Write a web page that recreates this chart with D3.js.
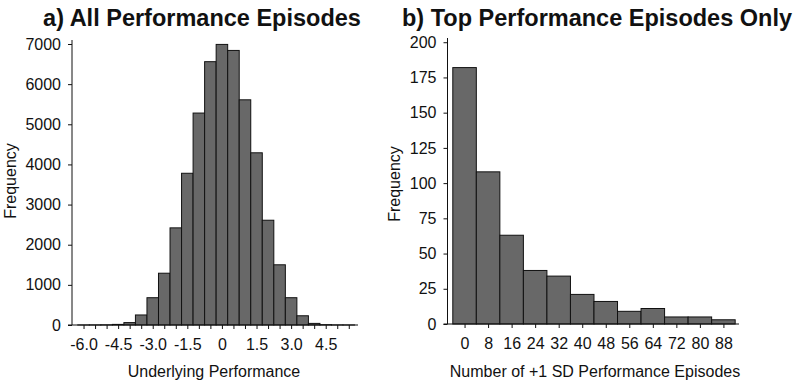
<!DOCTYPE html>
<html>
<head>
<meta charset="utf-8">
<script src="https://cdn.jsdelivr.net/npm/d3@7"></script>
<style>
  html, body { margin: 0; padding: 0; background: #fff; }
  svg text { font-family: "Liberation Sans", Arial, sans-serif; fill: #111; }
</style>
</head>
<body>
<svg id="chart" width="799" height="384"></svg>
<script>
// Panel a: histogram of underlying performance (bin centres, width 0.5)
const perfBins = [-6.0, -5.5, -5.0, -4.5, -4.0, -3.5, -3.0, -2.5, -2.0, -1.5, -1.0, -0.5,
                  0, 0.5, 1.0, 1.5, 2.0, 2.5, 3.0, 3.5, 4.0, 4.5, 5.0, 5.5];
const perfCounts = [1, 2, 4, 15, 60, 250, 680, 1290, 2420, 3780, 5280, 6560,
                    6990, 6840, 5610, 4290, 2610, 1500, 680, 230, 40, 8, 2, 1];
const perfTickLabels = [-6.0, -4.5, -3.0, -1.5, 0, 1.5, 3.0, 4.5];
const perfYTicks = [0, 1000, 2000, 3000, 4000, 5000, 6000, 7000];

// Panel b: histogram of number of +1 SD episodes (bin centres, width 8)
const topBins = [0, 8, 16, 24, 32, 40, 48, 56, 64, 72, 80, 88];
const topCounts = [182, 108, 63, 38, 34, 21, 16, 9, 11, 5, 5, 3];
const topYTicks = [0, 25, 50, 75, 100, 125, 150, 175, 200];

const svg = d3.select("#chart");
const FILL = "#686868";

function panel(opt) {
  const g = svg.append("g");
  const x = d3.scaleLinear().domain(opt.xDomain).range(opt.xRange);
  const y = d3.scaleLinear().domain(opt.yDomain).range([opt.yBase, opt.yTop]);

  // bars
  g.selectAll("rect.bar")
    .data(opt.bins.map((c, i) => ({ c, v: opt.counts[i] })))
    .join("rect")
    .attr("class", "bar")
    .attr("x", d => x(d.c - opt.binWidth / 2))
    .attr("width", d => x(d.c + opt.binWidth / 2) - x(d.c - opt.binWidth / 2))
    .attr("y", d => y(d.v))
    .attr("height", d => y(0) - y(d.v))
    .attr("fill", FILL)
    .attr("stroke", "#111")
    .attr("stroke-width", 1);

  // y axis
  const yAxis = d3.axisLeft(y).tickValues(opt.yTicks).tickSize(4).tickPadding(7)
    .tickFormat(d3.format("d"));
  const ya = g.append("g").attr("transform", `translate(${opt.xRange[0]},0)`).call(yAxis);
  ya.select(".domain").attr("d", `M0,${opt.yBase}V${opt.yTop}`);

  // x axis: tick at every bin centre, labels only on selected values
  const xAxis = d3.axisBottom(x).tickValues(opt.bins).tickSize(4).tickPadding(10)
    .tickFormat(d => opt.labels.includes(d) ? opt.fmt(d) : "");
  const xa = g.append("g").attr("transform", `translate(0,${opt.yBase})`).call(xAxis);
  xa.select(".domain").attr("d", `M${opt.xRange[0] - 4},0H${opt.xRange[1]}`);

  [ya, xa].forEach(a => {
    a.selectAll("text").attr("font-size", 16).attr("font-family", null).attr("fill", "#111");
    a.selectAll("line, .domain").attr("stroke", "#111").attr("stroke-width", 1);
  });

  // axis titles
  g.append("text")
    .attr("x", opt.xLabelX).attr("y", 377)
    .attr("text-anchor", "middle").attr("font-size", 16)
    .text(opt.xLabel);
  g.append("text")
    .attr("transform", `translate(${opt.yLabelX},${opt.yLabelY}) rotate(-90)`)
    .attr("text-anchor", "middle").attr("font-size", 16)
    .text("Frequency");

  // panel title
  g.append("text")
    .attr("x", opt.titleX).attr("y", 26)
    .attr("text-anchor", "middle").attr("font-size", 23.5).attr("font-weight", "bold")
    .text(opt.title);
}

panel({
  bins: perfBins, counts: perfCounts, binWidth: 0.5,
  xDomain: [-6.5, 5.9], xRange: [72, 358],
  yDomain: [0, 7100], yBase: 325, yTop: 40,
  yTicks: perfYTicks, labels: perfTickLabels,
  fmt: d => d === 0 ? "0" : d.toFixed(1),
  xLabel: "Underlying Performance", xLabelX: 214,
  yLabelX: 16, yLabelY: 181,
  title: "a) All Performance Episodes", titleX: 202
});

panel({
  bins: topBins, counts: topCounts, binWidth: 8,
  xDomain: [-5.8, 93.3], xRange: [447.5, 739],
  yDomain: [0, 203], yBase: 324, yTop: 38,
  yTicks: topYTicks, labels: topBins,
  fmt: d => String(d),
  xLabel: "Number of +1 SD Performance Episodes", xLabelX: 595,
  yLabelX: 400, yLabelY: 184,
  title: "b) Top Performance Episodes Only", titleX: 597
});
</script>
</body>
</html>
